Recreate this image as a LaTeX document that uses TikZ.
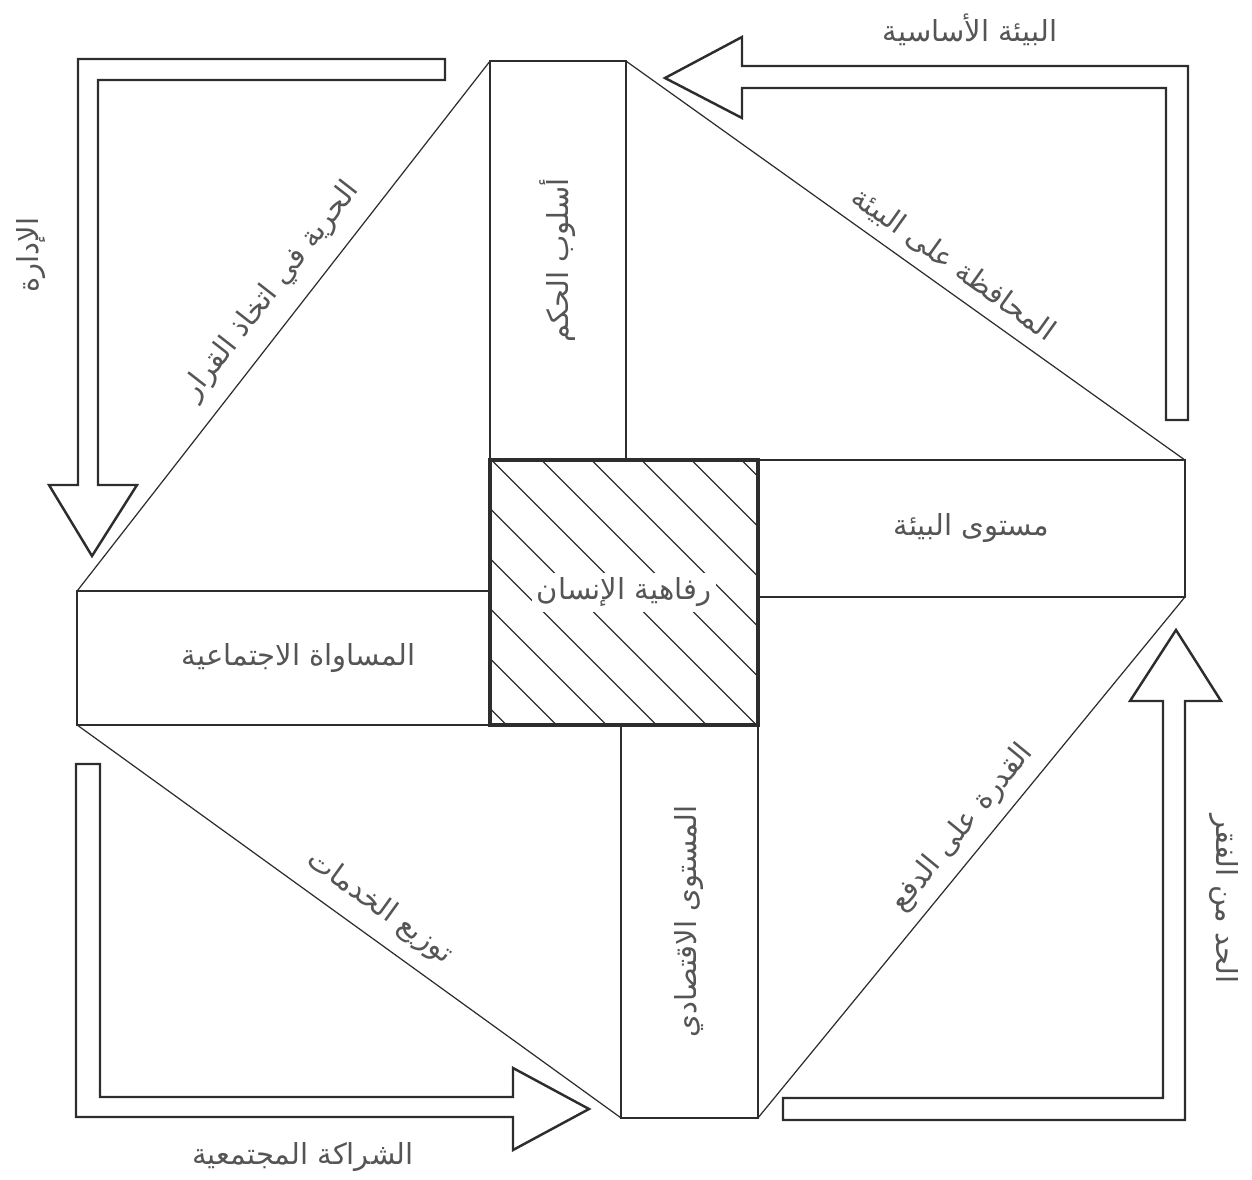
\documentclass[tikz,border=0pt]{standalone}
\usepackage{fontspec}
\newfontfamily\arabicfont[Script=Arabic]{DejaVu Sans}
\TeXXeTstate=1
\usetikzlibrary{positioning}
\definecolor{inkline}{RGB}{45,45,45}
\definecolor{inktext}{RGB}{85,85,85}
\newcommand{\rl}[1]{\beginR #1\endR}

\begin{document}
\begin{tikzpicture}[x=0.02cm, y=-0.02cm,
    bar/.style={draw=inkline, line width=1pt, inner sep=0pt, outer sep=0pt},
    diag/.style={draw=inkline, line width=0.7pt},
    bigarrow/.style={draw=inkline, line width=1.4pt, line join=miter},
    hatch/.style={draw=inkline, line width=0.8pt},
    lbl/.style={text=inktext, font=\arabicfont\fontsize{16.5}{19}\selectfont, inner sep=2pt}
  ]
  \useasboundingbox (0,0) rectangle (1252,1180);

  % centre square
  \node[bar, line width=2pt, minimum width=5.36cm, minimum height=5.3cm] (wel) at (624,592.5) {};
  \begin{scope}
    \clip (wel.north west) rectangle (wel.south east);
    \foreach \d in {-250,-200,...,250}
      \draw[hatch] (wel.center) ++(\d-300,-300) -- ++(600,600);
  \end{scope}
  \node[lbl, fill=white, inner sep=3pt] (welText) at (wel.center) {\rl{رفاهية الإنسان}};

  % the four bars round the square
  \node[bar, minimum width=2.72cm, minimum height=7.98cm, anchor=south west] (gov) at (wel.north west) {};
  \node[bar, minimum width=8.54cm, minimum height=2.74cm, anchor=north west] (env) at (wel.north east) {};
  \node[bar, minimum width=2.74cm, minimum height=7.86cm, anchor=north east] (eco) at (wel.south east) {};
  \node[bar, minimum width=8.26cm, minimum height=2.68cm, anchor=south east] (equal) at (wel.south west) {};
  \node[lbl, rotate=90] (govText) at (gov) {\rl{أسلوب الحكم}};
  \node[lbl] (envText) at (env) {\rl{مستوى البيئة}};
  \node[lbl, rotate=90] (ecoText) at (eco) {\rl{المستوى الاقتصادي}};
  \node[lbl] (equalText) at ([xshift=0.3cm]equal.center) {\rl{المساواة الاجتماعية}};

  % diagonals
  \draw[diag] (equal.north west) -- (gov.north west)
    node[lbl, sloped, above=7pt, pos=0.53] (freeText) {\rl{الحرية في اتخاذ القرار}};
  \draw[diag] (gov.north east) -- (env.north east)
    node[lbl, sloped, above=4pt, pos=0.56] (keepText) {\rl{المحافظة على البيئة}};
  \draw[diag] (eco.south east) -- (env.south east)
    node[lbl, sloped, above=4pt, pos=0.525] (payText) {\rl{القدرة على الدفع}};
  \draw[diag] (equal.south west) -- (eco.south west)
    node[lbl, sloped, above=6pt, pos=0.525] (servText) {\rl{توزيع الخدمات}};

  % outer arrows
  \draw[bigarrow] (445,59) -- (78,59) -- (78,485) -- (49,485) -- (92,556) -- (137,485) -- (98,485) -- (98,80) -- (445,80) -- cycle;
  \draw[bigarrow] (1166,420) -- (1166,88) -- (742,88) -- (742,118) -- (665,78) -- (742,37) -- (742,66) -- (1188,66) -- (1188,420) -- cycle;
  \draw[bigarrow] (76,764) -- (76,1117) -- (513,1117) -- (513,1150) -- (589,1109) -- (513,1068) -- (513,1097) -- (100,1097) -- (100,764) -- cycle;
  \draw[bigarrow] (783,1098) -- (1163,1098) -- (1163,701) -- (1130,701) -- (1176,630) -- (1221,701) -- (1185,701) -- (1185,1120) -- (783,1120) -- cycle;
  \node[lbl] (baseText) at (970,30) {\rl{البيئة الأساسية}};
  \node[lbl, rotate=90] (adminText) at (31,255) {\rl{الإدارة}};
  \node[lbl] (partText) at (303,1157) {\rl{الشراكة المجتمعية}};
  \node[lbl, rotate=-90] (povText) at (1224,899) {\rl{الحد من الفقر}};
\end{tikzpicture}
\end{document}
